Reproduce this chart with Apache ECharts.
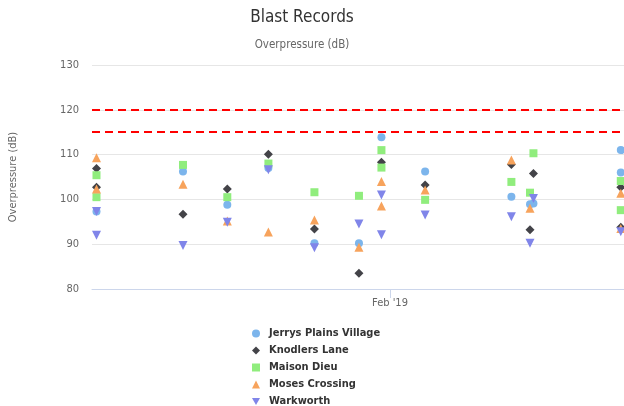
<!DOCTYPE html>
<html>
<head>
<meta charset="utf-8">
<script src="https://cdn.jsdelivr.net/npm/echarts@6/dist/echarts.min.js"></script>
<style>
  html, body { margin: 0; padding: 0; background: #fff; }
  #chart { width: 624px; height: 406px; }
</style>
</head>
<body>
<div id="chart"></div>
<script>
// one entry per blast reading (same time listed twice when a day had two blasts)
const blastTimes = [
  '2019-01-03 10:30', '2019-01-03 10:30', '2019-01-11 20:30', '2019-01-16 04:00',
  '2019-01-20 04:00', '2019-01-24 15:30', '2019-01-28 23:30', '2019-01-31 04:00',
  '2019-01-31 04:00', '2019-02-04 10:00', '2019-02-12 19:30', '2019-02-14 15:00',
  '2019-02-14 23:00', '2019-02-23 11:00', '2019-02-23 11:00'
]
const jerrysPlains = [97.3, null, 106.2, 98.8, 107.0, 90.2, 90.2, 113.9, null, 106.2, 100.6, 98.9, 99.1, 111.0, 106.0]
const knodlersLane = [106.9, 102.7, 96.7, 102.3, 110.1, 93.4, 83.5, 108.3, null, 103.2, 107.8, 93.2, 105.8, 102.7, 93.8]
const maisonDieu = [105.4, 100.5, 107.7, 100.5, 108.0, 101.6, 100.8, 111.0, 107.1, 99.9, 103.9, 101.5, 110.3, 104.1, 97.6]
const mosesCrossing = [109.3, 102.3, 103.4, 95.2, 92.7, 95.4, 89.3, 104.0, 98.5, 102.1, 108.8, 98.0, null, 101.4, 93.5]
const warkworth = [97.3, 92.0, 89.7, 94.9, 106.6, 89.2, 94.5, 101.0, 92.1, 96.5, 96.1, 90.2, 100.2, 92.8, null]

const limits = [120, 115]
const xRange = ['2019-01-03 00:00', '2019-02-23 18:30']
const monthTicks = ['2019-02-01 00:00']
const monthLabels = ["Feb '19"]

const font = "'DejaVu Sans Condensed', 'DejaVu Sans', sans-serif"
const triangleDown = 'path://M0,0 L10,0 L5,9 Z'

const seriesDefs = [
  { name: 'Jerrys Plains Village', values: jerrysPlains, color: '#7cb5ec', symbol: 'circle', size: 8 },
  { name: 'Knodlers Lane', values: knodlersLane, color: '#434348', symbol: 'diamond', size: 9 },
  { name: 'Maison Dieu', values: maisonDieu, color: '#90ed7d', symbol: 'rect', size: 8 },
  { name: 'Moses Crossing', values: mosesCrossing, color: '#f7a35c', symbol: 'triangle', size: 9 },
  { name: 'Warkworth', values: warkworth, color: '#8085e9', symbol: triangleDown, size: 9 }
]

const toTime = s => new Date(s.replace(' ', 'T') + ':00').getTime()
const tickTimes = monthTicks.map(toTime)

const chart = echarts.init(document.getElementById('chart'), null, { renderer: 'canvas' })

chart.setOption({
  animation: false,
  title: {
    text: 'Blast Records',
    subtext: 'Overpressure (dB)',
    left: 297,
    top: 4,
    textAlign: 'center',
    itemGap: 13,
    textStyle: { fontFamily: font, fontSize: 17, fontWeight: 'normal', color: '#333333' },
    subtextStyle: { fontFamily: font, fontSize: 11.5, color: '#666666' }
  },
  grid: { left: 92, right: 0, top: 65, bottom: 117 },
  xAxis: {
    type: 'value',
    min: toTime(xRange[0]),
    max: toTime(xRange[1]),
    axisLine: { lineStyle: { color: '#ccd6eb' } },
    axisTick: {
      length: 9,
      customValues: tickTimes,
      lineStyle: { color: '#ccd6eb' }
    },
    axisLabel: {
      customValues: tickTimes,
      formatter: v => monthLabels[tickTimes.indexOf(v)] || '',
      color: '#666666',
      fontFamily: font,
      fontSize: 11,
      margin: 9
    },
    splitLine: { show: false }
  },
  yAxis: {
    type: 'value',
    min: 80,
    max: 130,
    interval: 10,
    name: 'Overpressure (dB)',
    nameLocation: 'middle',
    nameGap: 73,
    nameTextStyle: { fontFamily: font, fontSize: 11, color: '#666666' },
    axisLine: { show: false },
    axisTick: { show: false },
    axisLabel: { color: '#666666', fontFamily: font, fontSize: 11, margin: 13 },
    splitLine: { lineStyle: { color: '#e6e6e6' } }
  },
  legend: {
    orient: 'vertical',
    left: 252,
    top: 327,
    height: 85,
    padding: 0,
    itemGap: 4,
    itemWidth: 8,
    itemHeight: 8,
    textStyle: {
      fontFamily: font, fontSize: 11, fontWeight: 'bold', color: '#333333',
      lineHeight: 13, padding: [0, 0, 0, 4]
    },
    data: seriesDefs.map(s => s.name)
  },
  series: seriesDefs.map((s, i) => ({
    name: s.name,
    type: 'scatter',
    symbol: s.symbol,
    symbolSize: s.size,
    itemStyle: { color: s.color, opacity: 1 },
    emphasis: { disabled: true },
    data: blastTimes
      .map((t, k) => [toTime(t), s.values[k]])
      .filter(p => p[1] !== null),
    markLine: i === 0 ? {
      silent: true,
      symbol: ['none', 'none'],
      label: { show: false },
      lineStyle: { color: '#ff0000', width: 2, type: [8, 5] },
      data: limits.map(v => ({ yAxis: v }))
    } : undefined,
    z: 2 + i
  }))
})
</script>
</body>
</html>
